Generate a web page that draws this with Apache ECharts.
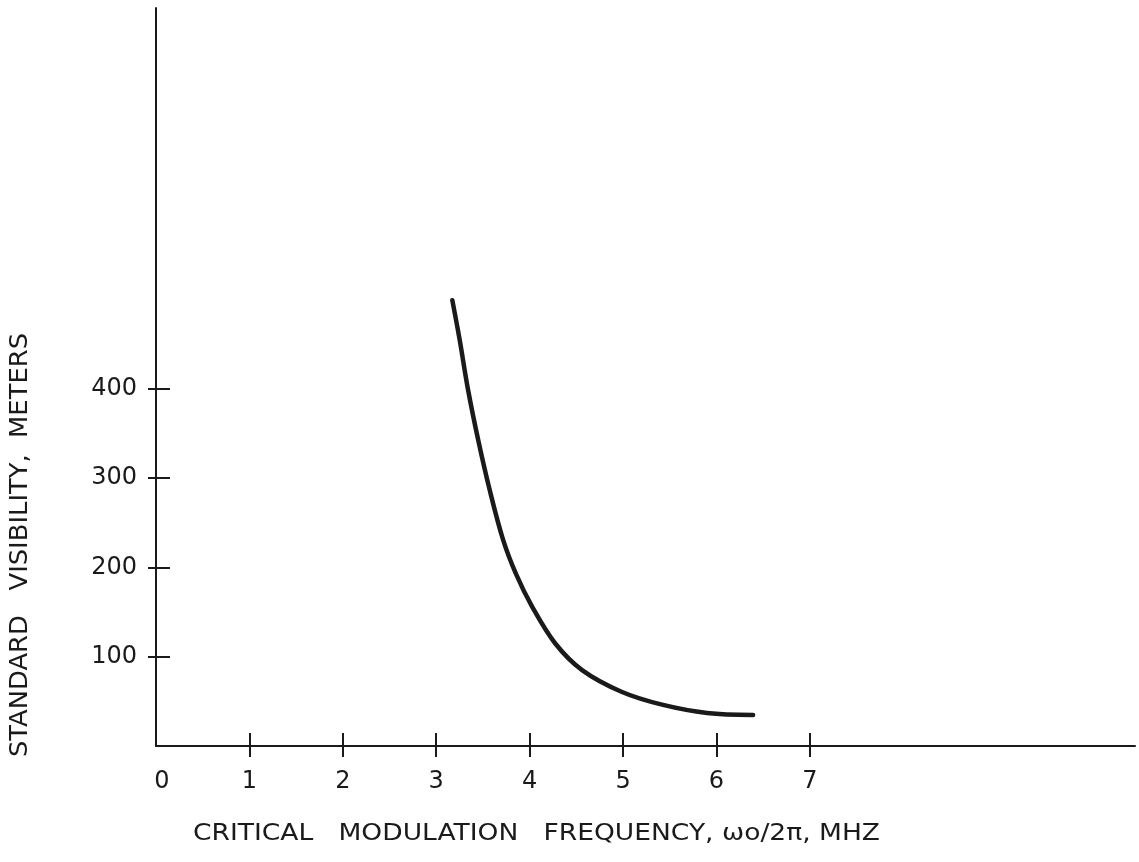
<!DOCTYPE html>
<html>
<head>
<meta charset="utf-8">
<script src="https://cdn.jsdelivr.net/npm/echarts@6/dist/echarts.min.js"></script>
<style>
html,body{margin:0;padding:0;background:#fff;}
#chart{width:1139px;height:862px;}
</style>
</head>
<body>
<div id="chart"></div>
<script>
// Data
const freqMHz = [3.172, 3.250, 3.340, 3.448, 3.571, 3.715, 3.856, 4.026, 4.272, 4.561, 4.989, 5.428, 5.899, 6.392];
const visibilityM = [499, 455, 399, 343, 287, 231, 192, 156, 115, 85, 60.5, 46, 37, 34.7];
const xTickValues = [1, 2, 3, 4, 5, 6, 7];
const xLabelValues = [0, 1, 2, 3, 4, 5, 6, 7];
const yTickValues = [100, 200, 300, 400];
const xTitle = 'CRITICAL   MODULATION   FREQUENCY, \u03c9o/2\u03c0, MHZ';
const yTitle = 'STANDARD   VISIBILITY,  METERS';

const FONT = 'DejaVu Sans';
const INK = '#1a1a1a';

function textWidth(text, font) {
  const ctx = document.createElement('canvas').getContext('2d');
  ctx.font = font;
  return ctx.measureText(text).width;
}
const xTitleFont = '23px "DejaVu Sans"';
const yTitleFont = '24px "DejaVu Sans"';
const xTitleScale = 687 / textWidth(xTitle, xTitleFont);
const yTitleScale = 424 / textWidth(yTitle, yTitleFont);

const chart = echarts.init(document.getElementById('chart'), null, {renderer: 'canvas'});
const xMin = 0, xMax = 10.48, yMin = 0, yMax = 826;

const commonX = {type: 'value', min: xMin, max: xMax, splitLine: {show: false}, position: 'bottom'};
const commonY = {type: 'value', min: yMin, max: yMax, splitLine: {show: false}, position: 'left'};

const curveData = freqMHz.map((x, i) => [x, visibilityM[i]]);

chart.setOption({
  animation: false,
  backgroundColor: '#fff',
  grid: {left: 156, right: 4, top: 8, bottom: 116, containLabel: false},
  xAxis: [
    Object.assign({}, commonX, {
      axisLine: {show: true, lineStyle: {color: INK, width: 2}},
      axisTick: {show: true, inside: false, length: 11, customValues: xTickValues, lineStyle: {color: INK, width: 2}},
      axisLabel: {show: true, customValues: xLabelValues, margin: 24, color: INK, fontFamily: FONT, fontSize: 24,
        formatter: v => v === 0 ? '{z|0}' : String(v),
        rich: {z: {padding: [0, 0, 0, 12], fontFamily: FONT, fontSize: 24, color: INK}}}
    }),
    Object.assign({}, commonX, {
      axisLine: {show: false},
      axisTick: {show: true, inside: true, length: 13, customValues: xTickValues, lineStyle: {color: INK, width: 2}},
      axisLabel: {show: false}
    })
  ],
  yAxis: [
    Object.assign({}, commonY, {
      axisLine: {show: true, lineStyle: {color: INK, width: 2}},
      axisTick: {show: true, inside: false, length: 8, customValues: yTickValues, lineStyle: {color: INK, width: 2}},
      axisLabel: {show: true, customValues: yTickValues, margin: 19, color: INK, fontFamily: FONT, fontSize: 24}
    }),
    Object.assign({}, commonY, {
      axisLine: {show: false},
      axisTick: {show: true, inside: true, length: 14, customValues: yTickValues, lineStyle: {color: INK, width: 2}},
      axisLabel: {show: false}
    })
  ],
  series: [{
    type: 'custom',
    xAxisIndex: 0,
    yAxisIndex: 0,
    data: curveData,
    encode: {x: 0, y: 1},
    renderItem: function (params, api) {
      if (params.dataIndex !== 0) return null;
      const pts = curveData.map(d => api.coord(d));
      return {
        type: 'polyline',
        shape: {points: pts, smooth: 0.35},
        style: {fill: null, stroke: INK, lineWidth: 4.5, lineCap: 'round', lineJoin: 'round'},
        silent: true
      };
    }
  }],
  graphic: [
    {type: 'text', x: 193, y: 834, scaleX: xTitleScale,
     style: {text: xTitle, font: xTitleFont, fill: INK, align: 'left', verticalAlign: 'middle'}},
    {type: 'text', x: 21, y: 545, rotation: Math.PI / 2, scaleX: yTitleScale,
     style: {text: yTitle, font: yTitleFont, fill: INK, align: 'center', verticalAlign: 'middle'}}
  ]
});
</script>
</body>
</html>
